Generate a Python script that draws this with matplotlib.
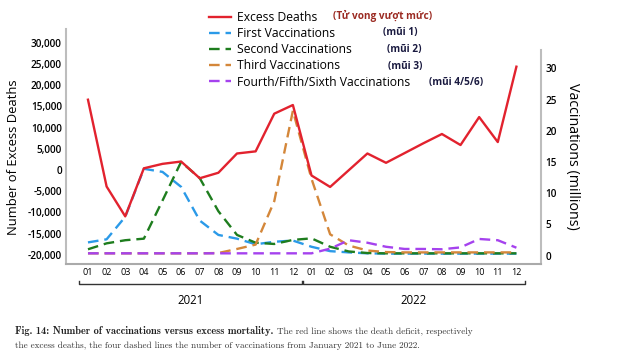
import matplotlib
matplotlib.use("Agg")
import matplotlib.pyplot as plt
import numpy as np

months = ["01", "02", "03", "04", "05", "06", "07", "08", "09", "10", "11", "12"] * 2
years = ["2021", "2022"]

excess_deaths = [16600, -3900, -10950, 400, 1450, 2000, -1950, -650, 3900, 4400, 13300, 15350,
                 -1300, -4000, -50, 3900, 1700, 4000, 6300, 8500, 5900, 12500, 6600, 24400]
first_vacc = [2.1, 2.6, 6.2, 13.9, 13.4, 11.0, 5.6, 3.3, 2.7, 1.8, 2.2, 2.4,
              1.4, 0.7, 0.5, 0.35, 0.3, 0.3, 0.3, 0.3, 0.3, 0.3, 0.3, 0.3]
second_vacc = [1.0, 1.95, 2.45, 2.7, 8.8, 15.0, 12.4, 7.1, 3.3, 2.05, 1.85, 2.5,
               2.75, 1.4, 0.65, 0.4, 0.35, 0.35, 0.35, 0.35, 0.35, 0.35, 0.35, 0.35]
third_vacc = [0.35, 0.35, 0.35, 0.35, 0.35, 0.35, 0.35, 0.4, 1.05, 1.75, 8.7, 23.2,
              12.3, 3.4, 1.6, 0.8, 0.55, 0.5, 0.5, 0.5, 0.5, 0.5, 0.5, 0.5]
later_vacc = [0.35, 0.35, 0.35, 0.35, 0.35, 0.35, 0.35, 0.35, 0.35, 0.35, 0.35, 0.35,
              0.35, 1.1, 2.45, 2.05, 1.4, 1.05, 1.05, 1.0, 1.3, 2.65, 2.45, 1.25]

labels = ["Excess Deaths", "First Vaccinations", "Second Vaccinations",
          "Third Vaccinations", "Fourth/Fifth/Sixth Vaccinations"]
vi_notes = ["(Tử vong vượt mức)", "(mũi 1)", "(mũi 2)", "(mũi 3)", "(mũi 4/5/6)"]
left_ticks = [-20000, -15000, -10000, -5000, 0, 5000, 10000, 15000, 20000, 25000, 30000]
right_ticks = [0, 5, 10, 15, 20, 25, 30]

W, H = 638, 358
fig = plt.figure(figsize=(W / 100, H / 100), dpi=100)
FONT = "Open Sans"

def fx(px):
    return px / W

def fy(py):
    return 1 - py / H

ax = fig.add_axes([fx(66), fy(264), fx(541) - fx(66), fy(29) - fy(264)])
ax2 = ax.twinx()

x = np.arange(len(months))
red = "#e2222e"
dash = (0, (4.5, 2.5))
l0, = ax.plot(x, excess_deaths, color=red, lw=1.7, zorder=5)
l1, = ax2.plot(x, first_vacc, color="#2b9ae8", lw=1.7, ls=dash)
l2, = ax2.plot(x, second_vacc, color="#1e7d1e", lw=1.7, ls=dash)
l3, = ax2.plot(x, third_vacc, color="#d4873a", lw=1.7, ls=dash)
l4, = ax2.plot(x, later_vacc, color="#a542ee", lw=1.7, ls=dash)

ax.set_zorder(ax2.get_zorder() + 1)
ax.patch.set_visible(False)

ax.set_xlim(-1.18, 24.32)
ax.set_ylim(-22200, 33300)
ax2.set_ylim(-1.36, 36.3)

ax.set_xticks(x)
ax.set_xticklabels(months, fontsize=6.5, family=FONT)
ax.set_yticks(left_ticks)
ax.set_yticklabels([f"{v:,}" for v in left_ticks], fontsize=7.2, family=FONT, fontweight="semibold")
ax2.set_yticks(right_ticks)
ax2.set_yticklabels([str(v) for v in right_ticks], fontsize=7.2, family=FONT, fontweight="semibold")
ax.tick_params(axis="both", length=0, pad=3)
ax.tick_params(axis="x", pad=3)
ax2.tick_params(axis="y", length=0, pad=3)

spc = "#bdbdbd"
for a in (ax, ax2):
    for s in a.spines.values():
        s.set_visible(False)
ax.spines["left"].set_visible(True)
ax.spines["left"].set_color(spc)
ax.spines["left"].set_linewidth(1.5)
ax.spines["bottom"].set_visible(True)
ax.spines["bottom"].set_color("#aaaaaa")
ax.spines["bottom"].set_linewidth(1.5)
ax2.spines["right"].set_visible(True)
ax2.spines["right"].set_color(spc)
ax2.spines["right"].set_linewidth(1.5)
ax2.spines["right"].set_bounds(-1.36, 32.9)

ax.set_ylabel("Number of Excess Deaths", fontsize=9.4, family=FONT)
ax2.set_ylabel("Vaccinations (millions)", fontsize=10.3, family=FONT, rotation=-90)
ax.yaxis.set_label_coords((13.5 - 66) / (541 - 66), (264 - 157) / 235)
ax2.yaxis.set_label_coords((573 - 66) / (541 - 66), (264 - 156) / 235)
ax.yaxis.label.set_va("center")
ax2.yaxis.label.set_va("center")

# year brackets
trans = matplotlib.transforms.blended_transform_factory(ax.transData, fig.transFigure)
for i, yr in enumerate(years):
    x0 = 12 * i - 0.48
    x1 = 12 * i + 11.48
    by = fy(284)
    ax.plot([x0, x0, x1, x1], [fy(280.5), by, by, fy(280.5)], transform=trans, color="#333333",
            lw=1.0, clip_on=False)
    ax.text((x0 + x1) / 2, fy(300), yr, transform=trans, ha="center", va="center",
            fontsize=8.3, family=FONT)

# legend
leg = fig.legend([l0, l1, l2, l3, l4], labels, loc="upper left",
                 bbox_to_anchor=(fx(201), fy(2.5)), frameon=False,
                 prop={"family": FONT, "size": 8.7}, handlelength=1.75,
                 handletextpad=0.5, labelspacing=0.26, borderpad=0.2)

note_x = [333, 383, 387, 388, 429]
note_y = [16, 33, 49.3, 66, 82.7]
for i, (t, nx, ny) in enumerate(zip(vi_notes, note_x, note_y)):
    fig.text(fx(nx), fy(ny), t, ha="left", va="center", fontsize=7.2, family=FONT,
             fontweight="bold", color="#9b2a22" if i == 0 else "#1a1a40")

# caption
fig.canvas.draw()
r = fig.canvas.get_renderer()
cap_b = fig.text(fx(15), fy(331.5), "Fig. 14: Number of vaccinations versus excess mortality.",
                 fontsize=7.45, family="cmb10", va="center", ha="left",
                 color="#222222")
bb = cap_b.get_window_extent(renderer=r)
fig.text(bb.x1 / W + fx(4), fy(331.5),
         "The red line shows the death deficit, respectively",
         fontsize=6.6, family="cmr10", va="center", ha="left", color="#333333")
fig.text(fx(15), fy(346), "the excess deaths, the four dashed lines the number of vaccinations from January 2021 to June 2022.",
         fontsize=6.6, family="cmr10", va="center", ha="left", color="#333333")

fig.savefig("out.png", dpi=100)
